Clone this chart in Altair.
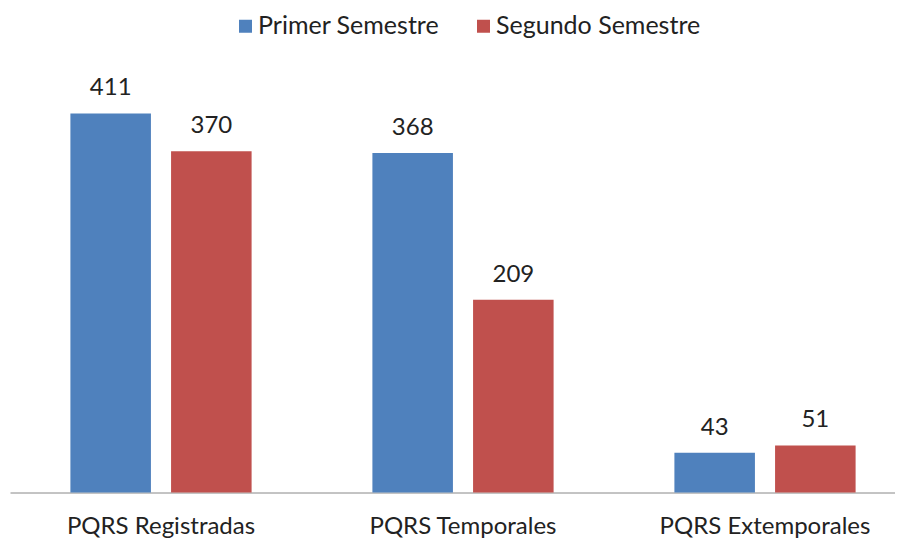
import altair as alt
import pandas as pd

categories = ["PQRS Registradas", "PQRS Temporales", "PQRS Extemporales"]
series = ["Primer Semestre", "Segundo Semestre"]
primer = [411, 368, 43]
segundo = [370, 209, 51]
colors = ["#4F81BD", "#C0504D"]

rows = []
for c, a, b in zip(categories, primer, segundo):
    rows.append({"cat": c, "serie": series[0], "val": a})
    rows.append({"cat": c, "serie": series[1], "val": b})
df = pd.DataFrame(rows)

FONT = "Lato"
FS = 24
TXT = "#222222"

base = alt.Chart(df).encode(
    x=alt.X(
        "cat:N", sort=categories, title=None,
        scale=alt.Scale(range=[2, 908], paddingInner=0.4, paddingOuter=0.2),
        axis=alt.Axis(domain=True, domainColor="#888888", domainWidth=1,
                      ticks=False, labelAngle=0, labelFont=FONT, labelFontSize=FS,
                      labelColor=TXT, labelPadding=41, labelBaseline="alphabetic",
                      labelLimit=0, grid=False),
    ),
    xOffset=alt.XOffset("serie:N", sort=series,
                        scale=alt.Scale(paddingInner=0.2, paddingOuter=0)),
    y=alt.Y("val:Q", scale=alt.Scale(domain=[0, 450]), axis=None),
)

bars = base.mark_bar().encode(
    color=alt.Color(
        "serie:N", sort=series,
        scale=alt.Scale(domain=series, range=colors),
        legend=alt.Legend(title=None, orient="none", legendX=225, legendY=-64,
                          direction="horizontal", symbolType="square",
                          symbolSize=169, symbolStrokeWidth=0,
                          labelFont=FONT, labelFontSize=25, labelColor=TXT,
                          columnPadding=31, labelOffset=0, labelLimit=0),
    )
)

labels = base.mark_text(dy=-18, baseline="alphabetic", font=FONT,
                        fontSize=FS, color=TXT).encode(text="val:Q")

chart = (bars + labels).properties(
    width=887, height=415,
    autosize=alt.AutoSizeParams(type="none"),
    padding={"left": 0, "top": 69.5, "right": 0, "bottom": 47.5},
).configure_view(stroke=None)

chart.save("out.html", embed_options={"renderer": "svg", "actions": False})
